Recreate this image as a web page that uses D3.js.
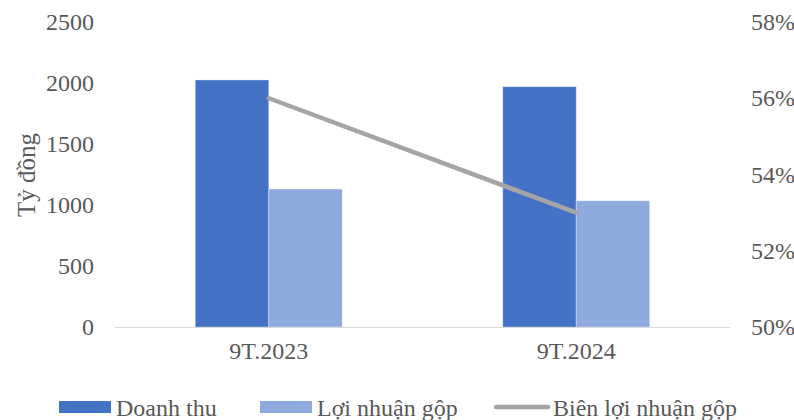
<!DOCTYPE html>
<html>
<head>
<meta charset="utf-8">
<script src="https://cdn.jsdelivr.net/npm/d3@7/dist/d3.min.js"></script>
<style>
  html, body { margin: 0; padding: 0; background: #fff; }
  svg { display: block; }
  text { font-family: "Liberation Serif", "Times New Roman", serif; fill: #595959; }
</style>
</head>
<body>
<svg id="chart" width="794" height="420"></svg>
<script>
// Categories and series
const categories = ["9T.2023", "9T.2024"];
const revenue = [2025, 1970];        // Doanh thu (tỷ đồng)
const grossProfit = [1131, 1035];    // Lợi nhuận gộp (tỷ đồng)
const grossMargin = [0.56, 0.53];    // Biên lợi nhuận gộp
const leftTicks = [0, 500, 1000, 1500, 2000, 2500];
const rightTicks = [0.50, 0.52, 0.54, 0.56, 0.58];
const seriesNames = ["Doanh thu", "Lợi nhuận gộp", "Biên lợi nhuận gộp"];

const colors = { rev: "#4472C4", gp: "#8FAADC", line: "#A5A5A5" };
const FONT = 24;

const svg = d3.select("#chart");
const plot = { left: 115, right: 730, top: 22, bottom: 327 };

const x = d3.scaleBand().domain(categories).range([plot.left, plot.right]).paddingInner(0).paddingOuter(0);
const xs = d3.scaleBand().domain(["rev", "gp"]).range([0, x.bandwidth()]).paddingInner(0).paddingOuter(1.092);
const yL = d3.scaleLinear().domain([0, 2500]).range([plot.bottom, plot.top]);
const yR = d3.scaleLinear().domain([0.50, 0.58]).range([plot.bottom, plot.top]);

// Bars
const rows = categories.map((c, i) => ({ c, rev: revenue[i], gp: grossProfit[i] }));
const g = svg.append("g");
rows.forEach(r => {
  ["rev", "gp"].forEach(k => {
    g.append("rect")
      .attr("x", x(r.c) + xs(k))
      .attr("y", yL(r[k]))
      .attr("width", xs.bandwidth())
      .attr("height", yL(0) - yL(r[k]))
      .attr("fill", colors[k])
      .attr("stroke", "#ffffff")
      .attr("stroke-opacity", 0.35)
      .attr("stroke-width", 1);
  });
});

// Category axis baseline
svg.append("line")
  .attr("x1", plot.left).attr("x2", plot.right)
  .attr("y1", yL(0) + 0.5).attr("y2", yL(0) + 0.5)
  .attr("stroke", "#D9D9D9").attr("stroke-width", 1.2);

// Margin line
const line = d3.line()
  .x((d, i) => x(categories[i]) + x.bandwidth() / 2)
  .y(d => yR(d));
svg.append("path")
  .datum(grossMargin)
  .attr("d", line)
  .attr("fill", "none")
  .attr("stroke", colors.line)
  .attr("stroke-width", 4.5)
  .attr("stroke-linecap", "round")
  .attr("stroke-linejoin", "round");

// Left axis
const axL = d3.axisLeft(yL).tickValues(leftTicks).tickSize(0).tickPadding(0).tickFormat(d3.format("d"));
svg.append("g").attr("transform", `translate(94,0)`).call(axL)
  .call(s => s.select(".domain").remove())
  .selectAll("text").attr("font-size", FONT).attr("fill", "#595959")
  .style("font-family", "'Liberation Serif', serif");

// Right axis
const axR = d3.axisRight(yR).tickValues(rightTicks).tickSize(0).tickPadding(0).tickFormat(d3.format(".0%"));
svg.append("g").attr("transform", `translate(751,0)`).call(axR)
  .call(s => s.select(".domain").remove())
  .selectAll("text").attr("font-size", FONT).attr("fill", "#595959")
  .style("font-family", "'Liberation Serif', serif");

// Category labels
const axX = d3.axisBottom(x).tickSize(0).tickPadding(0);
svg.append("g").attr("transform", `translate(0,${plot.bottom + 15})`).call(axX)
  .call(s => s.select(".domain").remove())
  .selectAll("text").attr("font-size", FONT).attr("fill", "#595959")
  .style("font-family", "'Liberation Serif', serif");

// Y-axis title
svg.append("text")
  .attr("transform", "translate(26,175) rotate(-90)")
  .attr("text-anchor", "middle")
  .attr("dominant-baseline", "central")
  .attr("font-size", 25)
  .text("Tỷ đồng");

// Legend
const legY = 407;
const leg = svg.append("g");
const legItems = [
  { name: seriesNames[0], type: "rect", color: colors.rev, x: 59 },
  { name: seriesNames[1], type: "rect", color: colors.gp, x: 260 },
  { name: seriesNames[2], type: "line", color: colors.line, x: 496 }
];
legItems.forEach(it => {
  if (it.type === "rect") {
    leg.append("rect").attr("x", it.x).attr("y", legY - 6).attr("width", 52).attr("height", 12).attr("fill", it.color);
  } else {
    leg.append("line").attr("x1", it.x).attr("x2", it.x + 52)
      .attr("y1", legY).attr("y2", legY)
      .attr("stroke", it.color).attr("stroke-width", 4.5).attr("stroke-linecap", "round");
  }
  leg.append("text").attr("x", it.x + 57).attr("y", legY + 1)
    .attr("dominant-baseline", "central")
    .attr("font-size", FONT)
    .text(it.name);
});
</script>
</body>
</html>
